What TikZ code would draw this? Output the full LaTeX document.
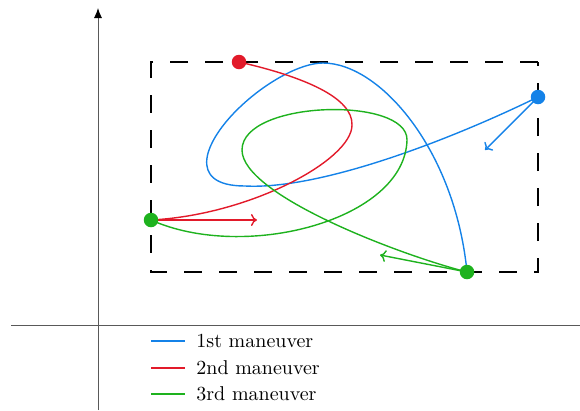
\documentclass[tikz,border=0pt]{standalone}
\usetikzlibrary{arrows.meta,backgrounds}
\definecolor{mblue}{RGB}{20,130,232}
\definecolor{mred}{RGB}{226,26,42}
\definecolor{mgreen}{RGB}{30,178,30}
\tikzset{
  dot/.style={circle,fill=#1,inner sep=0pt,minimum size=14.5pt},
  curve/.style={line width=1.4pt,#1},
  dirarrow/.style={line width=1.4pt,#1,-{To[length=6pt,width=12pt,line width=1.4pt]}},
  axis/.style={line width=0.9pt,black!65},
  box/.style={line width=1.8pt,black,dash pattern=on 18pt off 17pt},
  legtext/.style={anchor=west,font=\normalsize,scale=2,inner sep=0pt}
}
\begin{document}
\begin{tikzpicture}[x=1pt,y=-1pt]
\useasboundingbox (0,0) rectangle (580,410);
% dots (on top)
\node[dot=mred]   (R)  at (239,62)  {};
\node[dot=mblue]  (B)  at (538,97)  {};
\node[dot=mgreen] (G1) at (151,220) {};
\node[dot=mgreen] (G2) at (467,272) {};
\coordinate (Bend) at (485,150);
\coordinate (Rend) at (257,220);
\coordinate (Gend) at (380,255);
\coordinate (xL) at (11,325);
\coordinate (xR) at (580,325);
\coordinate (yB) at (98,410);
\coordinate (yT) at (98,8);
% legend
\coordinate (l1a) at (151,341); \coordinate (l1b) at (185,341);
\coordinate (l2a) at (151,368); \coordinate (l2b) at (185,368);
\coordinate (l3a) at (151,394); \coordinate (l3b) at (185,394);
\node[legtext] (t1) at (196,341) {1st maneuver};
\node[legtext] (t2) at (196,368) {2nd maneuver};
\node[legtext] (t3) at (196,394) {3rd maneuver};
\begin{pgfonlayer}{background}
\draw[axis] (xL) -- (xR);
\draw[axis,-{Latex[length=10pt,width=8pt,black]}] (yB) -- (yT);
\draw[box] (538,62) -- (151,62) -- (151,272) -- (538,272) -- cycle;
% 1st maneuver
\draw[curve=mblue] (B.center)
  .. controls (450,140) and (320,190) .. (245,186)
  .. controls (185,186) and (205,140) .. (240,107)
  .. controls (265,83) and (300,63) .. (323,63)
  .. controls (380,63) and (455,150) .. (G2.center);
% 2nd maneuver
\draw[curve=mred] (R.center)
  .. controls (305,77) and (353,98) .. (352,125)
  .. controls (352,160) and (250,215) .. (G1.center);
% 3rd maneuver
\draw[curve=mgreen] (G1.center)
  .. controls (245,262) and (405,220) .. (407,140)
  .. controls (408,96) and (242,100) .. (242,150)
  .. controls (242,195) and (400,255) .. (G2.center);
% direction arrows
\draw[dirarrow=mblue] (B.center) -- (Bend);
\draw[dirarrow=mred] (G1.center) -- (Rend);
\draw[dirarrow=mgreen] (G2.center) -- (Gend);
% legend lines
\draw[curve=mblue] (l1a) -- (l1b);
\draw[curve=mred] (l2a) -- (l2b);
\draw[curve=mgreen] (l3a) -- (l3b);
\end{pgfonlayer}
\end{tikzpicture}
\end{document}
